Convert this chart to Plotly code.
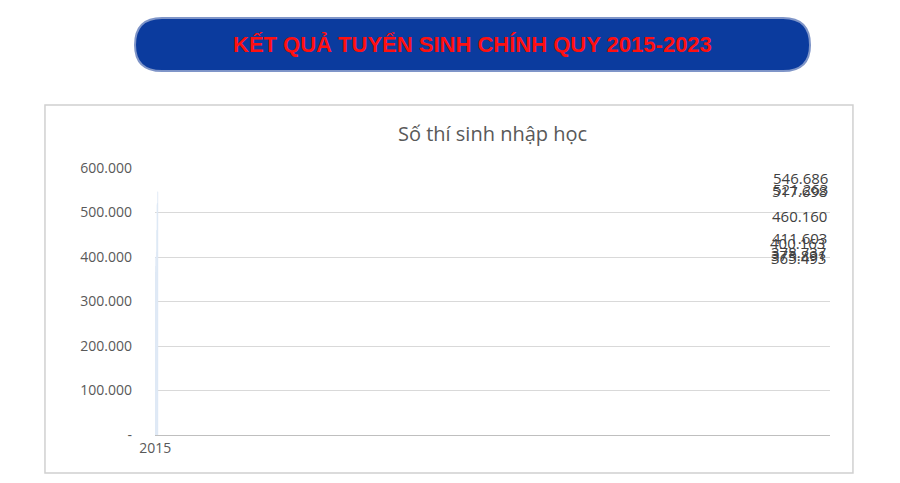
import plotly.graph_objects as go

years = ["2015", "2016", "2017", "2018", "2019", "2020", "2021", "2022", "2023"]
students = [400163, 378737, 365493, 373891, 411603, 460160, 517698, 521263, 546686]
y_ticks = [0, 100000, 200000, 300000, 400000, 500000, 600000]
y_tick_labels = ["-", "100.000", "200.000", "300.000", "400.000", "500.000", "600.000"]

labels = [f"{v:,}".replace(",", ".") for v in students]

fig = go.Figure()
fig.add_trace(go.Bar(
    x=years, y=students,
    marker=dict(color="#5b9bd5"),
    width=0.32,
))
# value labels above bars
for yr, v, lab in zip(years, students, labels):
    fig.add_annotation(x=yr, y=v, text=lab, showarrow=False, yanchor="bottom", yshift=2,
                       font=dict(size=15, color="#404040"))

# rounded banner (paper coords)
x0, x1 = -0.0296, 0.9704
yt, yb, ym = 1.562, 1.363, 1.4607
rx = 0.04
path = (f"M {x0+rx},{yt} L {x1-rx},{yt} Q {x1},{yt} {x1},{ym} Q {x1},{yb} {x1-rx},{yb} "
        f"L {x0+rx},{yb} Q {x0},{yb} {x0},{ym} Q {x0},{yt} {x0+rx},{yt} Z")
fig.add_shape(type="path", path=path, xref="paper", yref="paper",
              fillcolor="#0b3b9e", line=dict(color="#7f95c8", width=2))
fig.add_annotation(text="<b>KẾT QUẢ TUYỂN SINH CHÍNH QUY 2015-2023</b>",
                   x=(x0 + x1) / 2, y=ym, xref="paper", yref="paper", showarrow=False,
                   yanchor="middle", xanchor="center",
                   font=dict(size=22, color="#ff1010", family="Liberation Sans"))

# chart frame
fig.add_shape(type="rect", xref="paper", yref="paper", x0=-0.163, x1=1.034, y0=-0.142, y1=1.236,
              line=dict(color="#d0d0d0", width=1.5), layer="below")
fig.add_annotation(text="Số thí sinh nhập học", x=0.5, y=1.131, xref="paper", yref="paper",
                   showarrow=False, yanchor="middle",
                   font=dict(size=20, color="#595959"))

fig.update_layout(
    width=884, height=467,
    margin=dict(l=147, r=62, t=160, b=40),
    plot_bgcolor="white", paper_bgcolor="white",
    font=dict(family="Open Sans", color="#595959", size=14),
    showlegend=False,
    xaxis=dict(showline=True, linecolor="#bfbfbf", tickfont=dict(size=14)),
    yaxis=dict(range=[0, 600000], tickvals=y_ticks, ticktext=y_tick_labels,
               gridcolor="#d9d9d9", zeroline=False, ticklabelstandoff=22,
               tickfont=dict(size=14)),
)

fig.write_html("out.html")
